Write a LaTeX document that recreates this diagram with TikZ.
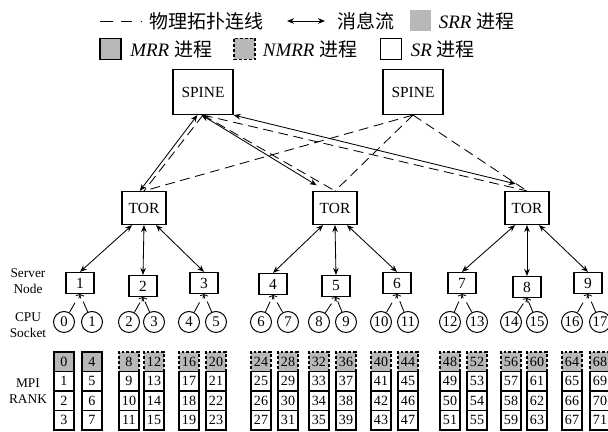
\documentclass[tikz,border=0pt]{standalone}
\usepackage{fontspec}
\setmainfont{Liberation Serif}
\newfontfamily\cjk{Noto Sans CJK SC}
\usetikzlibrary{arrows.meta,positioning}

\begin{document}
\begin{tikzpicture}[
    x=0.025cm, y=-0.025cm,
    box/.style={draw, line width=0.8pt, inner sep=0pt, font=\fontsize{11}{13}\selectfont},
    spine/.style={box, minimum width=1.5cm, minimum height=1.125cm},
    tor/.style={box, minimum width=1.1cm, minimum height=0.825cm},
    srv/.style={box, minimum width=0.7cm, minimum height=0.525cm},
    sock/.style={draw, circle, line width=0.7pt, inner sep=0pt, minimum size=0.525cm,
                 font=\fontsize{10.5}{12}\selectfont},
    cell/.style={draw, fill=white, line width=0.8pt, inner sep=0pt, minimum width=0.5cm,
                 minimum height=0.4875cm, font=\fontsize{10}{11}\selectfont},
    mrr/.style={cell, fill=black!28},
    nmrr/.style={cell, fill=black!28, dash pattern=on 2pt off 1.5pt},
    phys/.style={dash pattern=on 7pt off 4pt, line width=0.6pt},
    msg/.style={{Stealth[length=5pt,width=4pt]}-{Stealth[length=5pt,width=4pt]}, line width=0.6pt},
    sockln/.style={-{Straight Barb[length=2pt,width=4pt]}, line width=0.6pt, dash pattern=on 8pt off 10pt},
    lbl/.style={align=center, font=\fontsize{9.5}{11}\selectfont},
    lgd/.style={anchor=west, inner sep=0pt, font=\fontsize{13.5}{15}\selectfont},
    sq/.style={minimum size=0.525cm, inner sep=0pt, line width=0.8pt}
]
    \useasboundingbox (0,0) rectangle (608,432);
    \clip (0,0) rectangle (608,432);

    % legend, first row
    \coordinate (lgpa) at (100,21);
    \coordinate (lgpb) at (143,21);
    \draw[line width=0.6pt, dash pattern=on 9pt off 6pt on 8pt off 6pt on 1pt off 20pt] (lgpa) -- (lgpb);
    \node[lgd] (lgphys) at (149,21) {\cjk 物理拓扑连线};
    \coordinate (lgma) at (287,21);
    \coordinate (lgmb) at (325,21);
    \draw[msg] (lgma) -- (lgmb);
    \node[lgd] (lgmsg) at (337,21) {\cjk 消息流};
    \node[sq, fill=black!28] (lgsrr) at (420.5,21) {};
    \node[lgd, right=5pt of lgsrr] (lgsrrt) {{\itshape SRR} {\cjk 进程}};

    % legend, second row
    \node[sq, draw, fill=black!28] (lgmrr) at (110.5,49) {};
    \node[lgd, right=6pt of lgmrr] (lgmrrt) {{\itshape MRR} {\cjk 进程}};
    \node[sq, draw, fill=black!28, dash pattern=on 2pt off 1.5pt] (lgnmrr) at (244.5,49) {};
    \node[lgd, right=5pt of lgnmrr] (lgnmrrt) {{\itshape NMRR} {\cjk 进程}};
    \node[sq, draw] (lgsr) at (391,49) {};
    \node[lgd, right=6pt of lgsr] (lgsrt) {{\itshape SR} {\cjk 进程}};

    % switches
    \node[spine] (sp1) at (203,92) {SPINE};
    \node[spine] (sp2) at (413,92) {SPINE};
    \node[tor] (tor1) at (144,208) {TOR};
    \node[tor] (tor2) at (335,208) {TOR};
    \node[tor] (tor3) at (527,208) {TOR};

    % physical links
    \foreach \s in {1,2}
        \foreach \t in {1,2,3}
            \draw[phys] (sp\s.south) -- (tor\t.north);

    % message flow spine -- tor
    \draw[msg] ([xshift=-4pt]sp1.south) -- ([xshift=-3pt]tor1.north);
    \draw[msg] ([xshift=-1pt]sp1.south) -- ([xshift=3pt,yshift=4pt]tor2.north west);
    \draw[msg] (sp1.south east) -- ([xshift=-8pt,yshift=5pt]tor3.north);

    % server nodes
    \foreach \n/\x/\y in {1/80/283, 2/143/286, 3/204/283, 4/273/284, 5/336/286,
                          6/397/283, 7/462/283, 8/527/287, 9/588/283}
        \node[srv] (srv\n) at (\x,\y) {\n};

    % message flow tor -- server
    \foreach \t/\a/\b/\c in {1/1/2/3, 2/4/5/6, 3/7/8/9} {
        \draw[msg] ([xshift=-8.5pt]tor\t.south) -- (srv\a.north);
        \draw[msg] (tor\t.south) -- (srv\b.north);
        \draw[msg] ([xshift=8.5pt]tor\t.south) -- (srv\c.north);
    }

    % row labels
    \node[lbl] (lsrv) at (28,281) {Server\\Node};
    \node[lbl] (lcpu) at (28,325) {CPU\\Socket};
    \node[lbl] (lmpi) at (28,391) {MPI\\RANK};

    % sockets and rank columns
    \foreach \x [count=\s from 0] in {64,92,129,154,189,216,261,288,319,346,
                                      381,408,450,477,511,537,572,600} {
        \pgfmathtruncatemacro{\n}{div(\s,2)+1}
        \node[sock] (cpu\s) at (\x,322) {\s};
        \draw[sockln] (cpu\s) -- (srv\n.south);
        \pgfmathtruncatemacro{\r}{4*\s}
        \ifnum\s<2
            \node[mrr] (rk\r) at (\x,361.75) {\r};
        \else
            \node[nmrr] (rk\r) at (\x,361.75) {\r};
        \fi
        \foreach \k in {1,2,3} {
            \pgfmathtruncatemacro{\rr}{\r+\k}
            \node[cell] (rk\rr) at (\x,{361.75+19.5*\k}) {\rr};
        }
    }
\end{tikzpicture}
\end{document}
